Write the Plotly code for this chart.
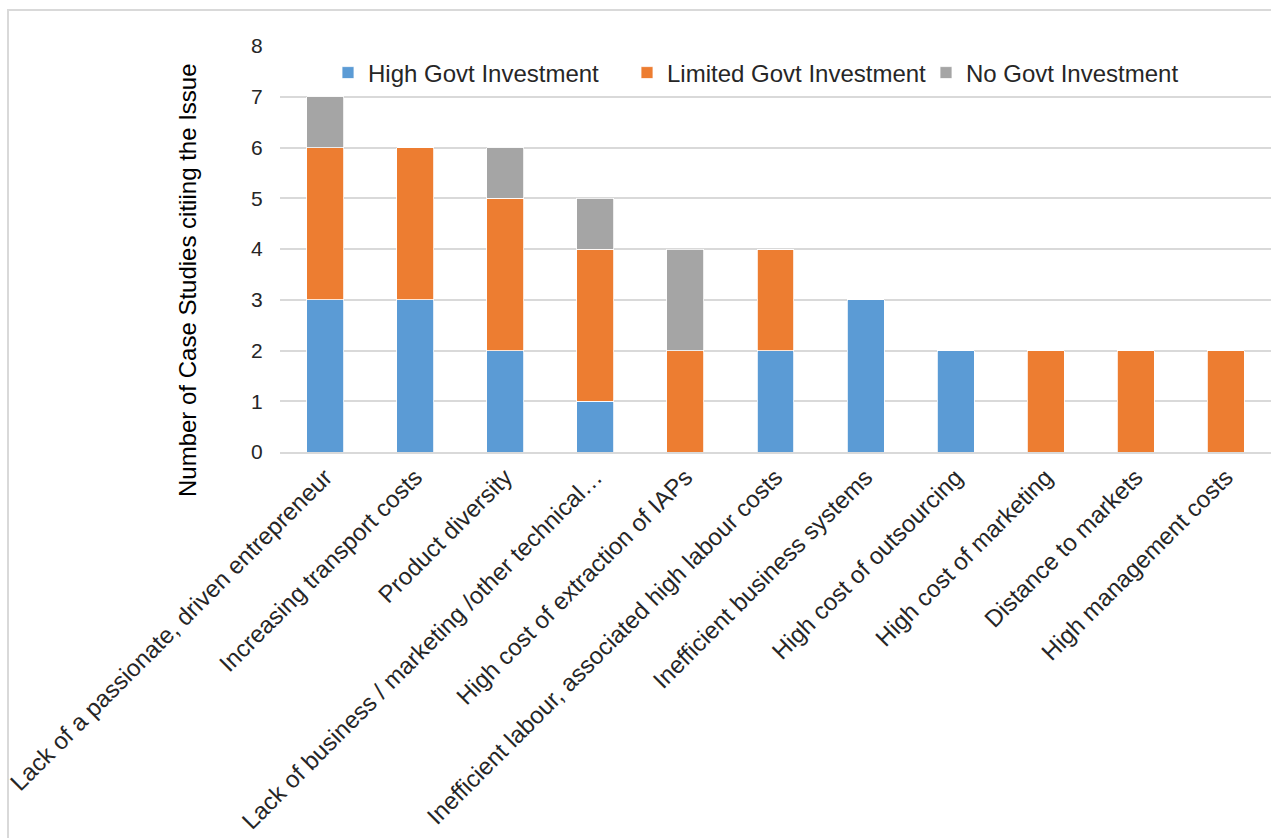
import plotly.graph_objects as go

categories = [
    "Lack of a passionate, driven entrepreneur",
    "Increasing transport costs",
    "Product diversity",
    "Lack of business / marketing /other technical…",
    "High cost of extraction of IAPs",
    "Inefficient labour, associated high labour costs",
    "Inefficient business systems",
    "High cost of outsourcing",
    "High cost of marketing",
    "Distance to markets",
    "High management costs",
]
high_govt = [3, 3, 2, 1, 0, 2, 3, 2, 0, 0, 0]
limited_govt = [3, 3, 3, 3, 2, 2, 0, 0, 2, 2, 2]
no_govt = [1, 0, 1, 1, 2, 0, 0, 0, 0, 0, 0]

series = [
    ("High Govt Investment", high_govt, "#5B9BD5"),
    ("Limited Govt Investment", limited_govt, "#ED7D31"),
    ("No Govt Investment", no_govt, "#A5A5A5"),
]

fig = go.Figure()
for name, vals, color in series:
    fig.add_trace(go.Bar(
        x=categories, y=vals, name=name,
        marker=dict(color=color, line=dict(color="white", width=0.8)),
        width=0.41,
    ))

W, H = 1271, 838
ml, mr, mt, mb = 280, 0, 46, 386
pw = W - ml - mr
ph = H - mt - mb

fig.update_layout(
    width=W, height=H,
    barmode="stack",
    paper_bgcolor="white", plot_bgcolor="white",
    margin=dict(l=ml, r=mr, t=mt, b=mb),
    font=dict(family="Liberation Sans, Arial, sans-serif", size=24, color="#262626"),
    legend=dict(
        orientation="h", x=(328 - ml) / pw, y=1 - (73 - mt) / ph,
        xanchor="left", yanchor="middle",
        font=dict(size=24, color="#262626"), bgcolor="rgba(0,0,0,0)",
        traceorder="normal", entrywidth=254, entrywidthmode="pixels",
    ),
    showlegend=True,
    xaxis=dict(
        tickangle=-45, tickfont=dict(size=24, color="#262626"),
        showline=True, linecolor="#d9d9d9", linewidth=1.5, ticks="",
    ),
    yaxis=dict(
        range=[0, 8], dtick=1, showgrid=True, gridcolor="#d9d9d9", gridwidth=1.5,
        zeroline=False, tickfont=dict(size=21, color="#262626"),
        ticks="outside", ticklen=12, tickcolor="white",
    ),
    annotations=[dict(
        text="Number of Case Studies citiing the Issue",
        textangle=-90, xref="paper", yref="paper",
        x=(187 - ml) / pw, y=1 - (280 - mt) / ph,
        xanchor="center", yanchor="middle", showarrow=False,
        font=dict(size=24, color="#000000"),
    )],
)

fig.add_shape(type="rect", xref="paper", yref="paper",
              x0=(8 - ml) / pw, x1=(W + 20 - ml) / pw,
              y0=-(H + 20 - mt - ph) / ph, y1=1 + (mt - 10) / ph,
              line=dict(color="#d9d9d9", width=2), fillcolor="rgba(0,0,0,0)", layer="below")

fig.write_html("out.html", config={"displayModeBar": False},
               post_script="document.body.style.margin='0';")
